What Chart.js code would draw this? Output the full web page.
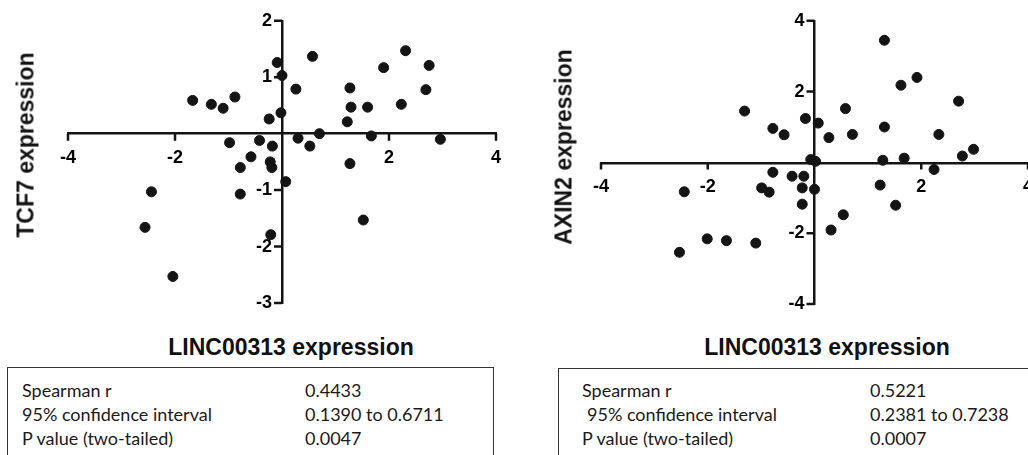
<!DOCTYPE html>
<html>
<head>
<meta charset="utf-8">
<script src="https://cdn.jsdelivr.net/npm/chart.js@4.4.0/dist/chart.umd.min.js"></script>
<style>
  html, body { margin:0; padding:0; background:#fff; width:1028px; height:455px; overflow:hidden; }
  #wrap { position:relative; width:1028px; height:455px; overflow:hidden; }
  canvas { position:absolute; top:0; }
  .ytitle, .xtitle { position:absolute; font:bold 23px 'Liberation Sans', Arial, sans-serif; color:#111; white-space:nowrap; }
  .ytitle { transform:translate(-50%,-50%) rotate(-90deg); }
  .xtitle { transform:translateX(-50%); }
  .box { position:absolute; border:1.5px solid #333; }
  .stat { position:absolute; font:18px/1 Lato, 'Open Sans', sans-serif; color:#1a1a1a; white-space:nowrap; }
</style>
</head>
<body>
<div id="wrap">
  <canvas id="left" width="520" height="330" style="left:0"></canvas>
  <canvas id="right" width="540" height="330" style="left:520px"></canvas>

  <div class="ytitle" style="left:26px;top:145px">TCF7 expression</div>
  <div class="ytitle" style="left:564px;top:147px">AXIN2 expression</div>
  <div class="xtitle" style="left:291px;top:334px">LINC00313 expression</div>
  <div class="xtitle" style="left:827px;top:334px">LINC00313 expression</div>

  <div class="box" style="left:7px;top:367px;width:485px;height:110px"></div>
  <div class="box" style="left:558px;top:368px;width:500px;height:110px"></div>
  <div id="stats"></div>
</div>

<script>
// ── Data ───────────────────────────────────────────────────────────────────
// LINC00313 vs TCF7
const tcf7X = [-0.09, 0.00, 0.57, 0.26, -0.88, -1.10, -0.02, -0.24, -0.98, -0.42,
               -0.18, 0.30, 0.52, 0.70, -0.58, -0.78, -0.22, -0.19, 0.07, -0.78,
               -1.67, -1.32, -2.44, -2.56, -2.04, -0.21, 1.27, 1.29, 1.22, 1.60,
               1.67, 1.27, 1.52, 1.90, 2.31, 2.75, 2.23, 2.69, 2.96];
const tcf7Y = [1.26, 1.03, 1.37, 0.79, 0.65, 0.45, 0.37, 0.26, -0.16, -0.12,
               -0.22, -0.08, -0.22, 0.00, -0.41, -0.60, -0.50, -0.60, -0.85, -1.07,
               0.59, 0.52, -1.03, -1.66, -2.53, -1.79, 0.81, 0.47, 0.21, 0.47,
               -0.04, -0.53, -1.53, 1.17, 1.47, 1.21, 0.52, 0.78, -0.10];

// LINC00313 vs AXIN2
const axin2X = [-1.31, -0.17, 0.07, 0.58, -0.78, -0.57, 0.27, 0.71, -0.07, 0.02,
                -0.78, -0.42, -0.20, -0.99, -0.85, -0.23, 0.00, -0.23, 0.54, -2.44,
                -2.01, -1.65, -1.10, -2.53, 1.31, 1.62, 1.92, 2.70, 1.31, 2.33,
                2.98, 2.77, 1.28, 1.68, 2.24, 1.23, 1.52, 0.31];
const axin2Y = [1.45, 1.24, 1.11, 1.52, 0.96, 0.78, 0.70, 0.79, 0.08, 0.03,
                -0.28, -0.39, -0.39, -0.72, -0.84, -0.72, -0.76, -1.18, -1.48, -0.83,
                -2.16, -2.21, -2.28, -2.54, 3.45, 2.18, 2.40, 1.73, 1.00, 0.79,
                0.37, 0.18, 0.06, 0.12, -0.20, -0.64, -1.21, -1.91];

const statLabels = ['Spearman r', '95% confidence interval', 'P value (two-tailed)'];
const tcf7Stats  = ['0.4433', '0.1390 to 0.6711', '0.0047'];
const axin2Stats = ['0.5221', '0.2381 to 0.7238', '0.0007'];

const INK = '#141414';
const FONT = "'Liberation Sans', Arial, sans-serif";

// ── Tick marks (GraphPad style: x ticks point down, y ticks point left) ───
const tickMarks = {
  id: 'tickMarks',
  afterDraw(chart) {
    const { ctx, scales: { x, y } } = chart;
    const x0 = x.getPixelForValue(0);
    const y0 = y.getPixelForValue(0);
    ctx.save();
    ctx.strokeStyle = INK;
    ctx.lineWidth = 2.5;
    ctx.beginPath();
    x.ticks.forEach(t => {
      if (t.value === 0) return;
      const px = x.getPixelForValue(t.value);
      ctx.moveTo(px, y0); ctx.lineTo(px, y0 + 7);
    });
    y.ticks.forEach(t => {
      if (t.value === 0) return;
      const py = y.getPixelForValue(t.value);
      ctx.moveTo(x0, py); ctx.lineTo(x0 - 8, py);
    });
    ctx.stroke();
    ctx.restore();
  }
};

// ── Charts ─────────────────────────────────────────────────────────────────
function scatter(id, xs, ys, yMin, yMax, yStep, xPos, pad) {
  const pts = xs.map((x, i) => ({ x, y: ys[i] }));
  const tickFont = { family: FONT, size: 18, weight: 'bold' };
  const noGrid = { display: false, drawTicks: false, tickLength: 0 };
  return new Chart(document.getElementById(id).getContext('2d'), {
    type: 'scatter',
    data: { datasets: [{ data: pts, backgroundColor: INK, borderColor: INK, pointRadius: 5, pointHoverRadius: 5 }] },
    options: {
      responsive: false,
      animation: false,
      layout: { padding: pad },
      plugins: { legend: { display: false }, tooltip: { enabled: false } },
      scales: {
        x: {
          type: 'linear', min: -4, max: 4, position: xPos,
          ticks: { stepSize: 2, padding: 14, color: '#000', font: tickFont, maxRotation: 0, autoSkip: false,
                   callback: v => v === 0 ? '' : v },
          grid: noGrid,
          border: { color: INK, width: 2.5 },
        },
        y: {
          type: 'linear', min: yMin, max: yMax, position: 'center',
          ticks: { stepSize: yStep, padding: 10, color: '#000', font: tickFont, autoSkip: false,
                   callback: v => v === 0 ? '' : v },
          grid: noGrid,
          border: { color: INK, width: 2.5 },
        },
      },
    },
    plugins: [tickMarks],
  });
}

scatter('left', tcf7X, tcf7Y, -3, 2, 1, { y: 0 }, { left: 68, right: 24, top: 19, bottom: 27 });
scatter('right', axin2X, axin2Y, -4, 4, 2, 'center', { left: 81, right: 32, top: 18, bottom: 26 });

// ── Stat tables ────────────────────────────────────────────────────────────
function statTable(labels, values, x1, x2, indent) {
  const tops = [381, 405, 429];
  return labels.map((lab, i) => `
    <div class="stat" style="left:${x1 + (i === 1 ? indent : 0)}px;top:${tops[i]}px">${lab}</div>
    <div class="stat" style="left:${x2}px;top:${tops[i]}px">${values[i]}</div>`).join('');
}
document.getElementById('stats').innerHTML =
  statTable(statLabels, tcf7Stats, 22, 305, 0) +
  statTable(statLabels, axin2Stats, 582, 870, 5);
</script>
</body>
</html>
